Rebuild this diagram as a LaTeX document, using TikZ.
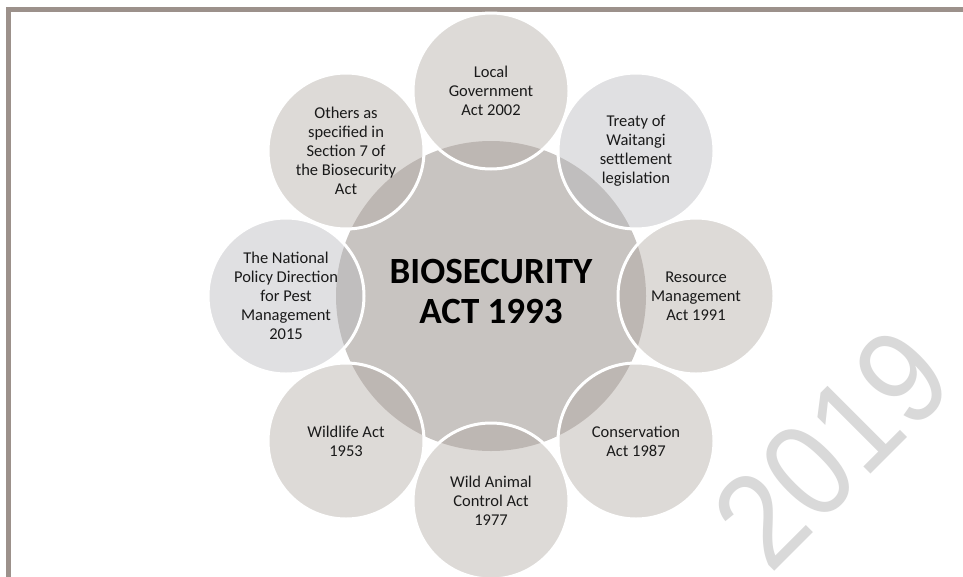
\documentclass[tikz,border=0pt]{standalone}
\usepackage{fontspec}
\usepackage{graphicx}
\setmainfont{Carlito}
\newfontfamily\wmfont{Liberation Sans}
\definecolor{framec}{HTML}{9C918B}
\definecolor{bigc}{HTML}{C8C4C1}
\definecolor{warmc}{HTML}{B0A7A0}
\definecolor{coolc}{HTML}{B7B7BC}
\definecolor{wmc}{HTML}{D9D9D9}
\definecolor{txtc}{HTML}{1A1A1A}
\begin{document}
\begin{tikzpicture}[x=1pt,y=-1pt,
  bigcirc/.style={circle, minimum size=310pt, inner sep=0pt, fill=bigc},
  smallcirc/.style={circle, minimum size=156pt, inner sep=0pt, draw=white, line width=3pt,
     fill=#1, fill opacity=0.42, text opacity=1, align=center, text=txtc,
     font=\fontsize{16.5}{19}\selectfont},
  smallcirc/.default=warmc,
  titletext/.style={align=center, text=black, font=\bfseries\fontsize{37}{40}\selectfont},
  wmtext/.style={text=wmc, inner sep=0pt, font=\wmfont\fontsize{120}{120}\selectfont}]
\useasboundingbox (0,0) rectangle (963,576);
\clip (0,0) rectangle (963,576);
\fill[white] (0,0) rectangle (963,576);
% frame
\draw[framec, line width=5pt] (8.5,620) -- (8.5,9.5) -- (1000,9.5);
% watermark
\node[wmtext, rotate=45] (wm) at (832,448) {\scalebox{1}[1.12]{2019}};
% central circle
\node[bigcirc] (bio) at (491,296) {};
\node[titletext] (title) at (491,291) {BIOSECURITY\\ACT 1993};
% surrounding circles
\node[smallcirc] (local) at (491,91) {Local\\Government\\Act 2002};
\node[smallcirc=coolc] (treaty) at (636,151) {Treaty of\\Waitangi\\settlement\\legislation};
\node[smallcirc] (resource) at (696,296) {Resource\\Management\\Act 1991};
\node[smallcirc] (conserv) at (636,441) {Conservation\\Act 1987};
\node[smallcirc] (wild) at (491,501) {Wild Animal\\Control Act\\1977};
\node[smallcirc] (wildlife) at (346,441) {Wildlife Act\\1953};
\node[smallcirc=coolc] (national) at (286,296) {The National\\Policy Direction\\for Pest\\Management\\2015};
\node[smallcirc] (others) at (346,151) {Others as\\specified in\\Section 7 of\\the Biosecurity\\Act};
\end{tikzpicture}
\end{document}
